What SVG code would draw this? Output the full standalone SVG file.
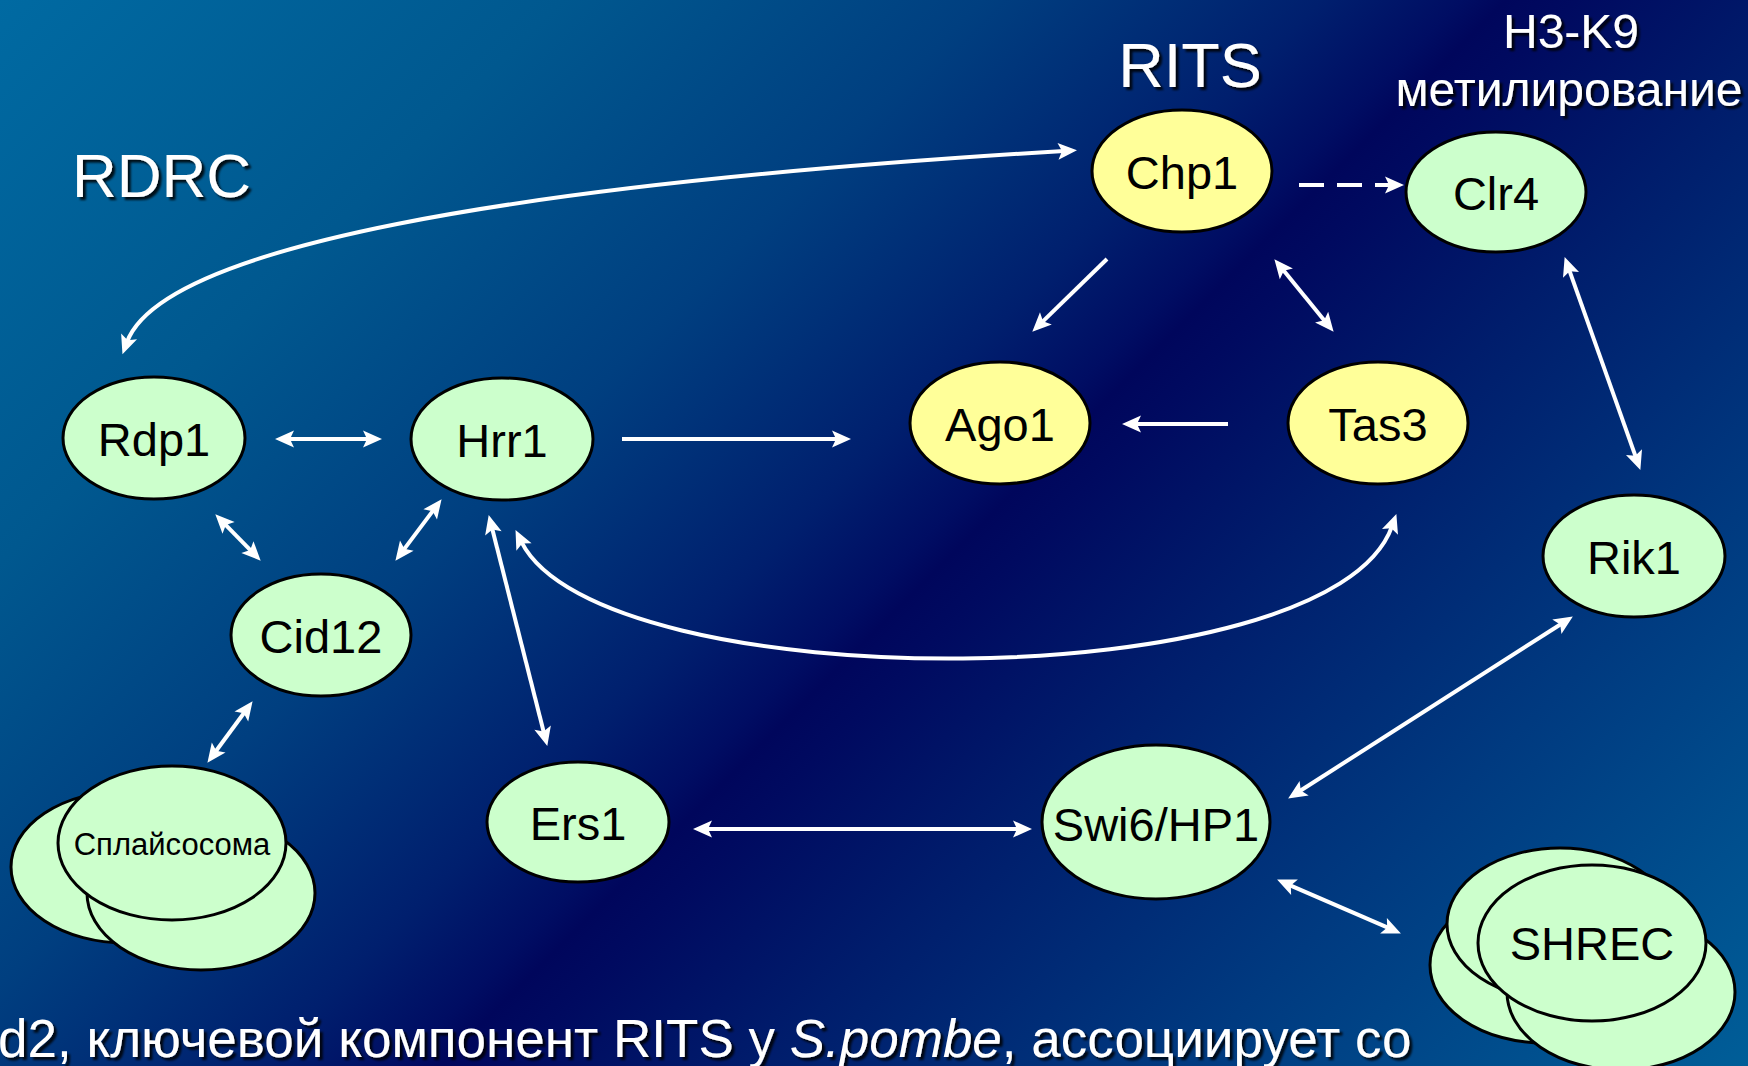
<svg xmlns="http://www.w3.org/2000/svg" width="1748" height="1066" viewBox="0 0 1748 1066">
  <defs>
    <!-- diagonal ocean-style backdrop with a dark band across the middle -->
    <linearGradient id="bg" gradientUnits="userSpaceOnUse" x1="0" y1="0" x2="1407" y2="1407">
      <stop offset="0" stop-color="#006aa2"/>
      <stop offset="0.2" stop-color="#00588f"/>
      <stop offset="0.35" stop-color="#003f80"/>
      <stop offset="0.47" stop-color="#001f6e"/>
      <stop offset="0.52" stop-color="#000d63"/>
      <stop offset="0.535" stop-color="#00065c"/>
      <stop offset="0.56" stop-color="#000a60"/>
      <stop offset="0.65" stop-color="#001d6c"/>
      <stop offset="0.8" stop-color="#003a80"/>
      <stop offset="1" stop-color="#005e98"/>
    </linearGradient>
    <marker id="ah" viewBox="-7 -10 21 20" refX="0" refY="0" markerWidth="21" markerHeight="20" markerUnits="userSpaceOnUse" orient="auto-start-reverse">
      <path d="M13,0 L-6,-8.5 L-2,0 L-6,8.5 Z" fill="#fff"/>
    </marker>
    <filter id="shadow" x="-10%" y="-20%" width="130%" height="150%">
      <feDropShadow dx="3" dy="3" stdDeviation="1.2" flood-color="#000" flood-opacity="0.85"/>
    </filter>
  </defs>
  <style>
    .node ellipse { stroke: #000; stroke-width: 3; }
    .g { fill: #ccffcc; }
    .y { fill: #ffff99; }
    .lbl { font-family: "Liberation Sans", Arial, sans-serif; font-size: 47px; text-anchor: middle; fill: #000; }
    .small { font-size: 31px; }
    .title { font-family: "Liberation Sans", Arial, sans-serif; fill: #fff; filter: url(#shadow); }
    .conn path { stroke: #fff; stroke-width: 4; fill: none; }
    .both { marker-start: url(#ah); marker-end: url(#ah); }
    .one { marker-end: url(#ah); }
  </style>

  <rect width="1748" height="1066" fill="url(#bg)"/>

  <!-- headings -->
  <text class="title" x="72" y="197" font-size="62">RDRC</text>
  <text class="title" x="1190" y="87" font-size="63" text-anchor="middle">RITS</text>
  <text class="title" x="1571" y="48" font-size="48" text-anchor="middle">H3-K9</text>
  <text class="title" x="1569" y="106" font-size="48" text-anchor="middle">метилирование</text>
  <text class="title" x="-2" y="1057" font-size="53">d2, ключевой компонент RITS у <tspan font-style="italic">S.pombe</tspan>, ассоциирует со</text>

  <!-- connectors -->
  <g id="connectors" class="conn">
    <path class="both" d="M127,342 C162,248 500,185 1064,151"/>
    <path class="one" d="M1299,185 L1391,185" stroke-dasharray="25 13"/>
    <path class="one" d="M1107,259 L1041.6,322.6"/>
    <path class="both" d="M1282.6,269.3 L1325.4,321.7"/>
    <path class="one" d="M1228,424 L1135,424"/>
    <path class="one" d="M622,439 L838,439"/>
    <path class="both" d="M288,439 L369,439"/>
    <path class="both" d="M224.4,523.6 L251.6,551.4"/>
    <path class="both" d="M433.8,509.6 L403.2,550.4"/>
    <path class="both" d="M491.9,527.6 L544.1,733.4"/>
    <path class="both" d="M521.3,541.7 C600,700 1330,700 1392,526.3"/>
    <path class="both" d="M1569,269.3 L1636,457.7"/>
    <path class="both" d="M1561.9,623.5 L1299.1,791.5"/>
    <path class="both" d="M706,829 L1019,829"/>
    <path class="both" d="M1289,884.8 L1389,928.2"/>
    <path class="both" d="M244.9,711.7 L215.1,752.3"/>
  </g>

  <!-- nodes -->
  <g id="node-rdp1" class="node">
    <ellipse class="g" cx="154" cy="438" rx="91" ry="61"/>
    <text class="lbl" x="154" y="456">Rdp1</text>
  </g>
  <g id="node-hrr1" class="node">
    <ellipse class="g" cx="502" cy="439" rx="91" ry="61"/>
    <text class="lbl" x="502" y="457">Hrr1</text>
  </g>
  <g id="node-cid12" class="node">
    <ellipse class="g" cx="321" cy="635" rx="90" ry="61"/>
    <text class="lbl" x="321" y="653">Cid12</text>
  </g>
  <g id="node-chp1" class="node">
    <ellipse class="y" cx="1182" cy="171" rx="90" ry="61"/>
    <text class="lbl" x="1182" y="189">Chp1</text>
  </g>
  <g id="node-clr4" class="node">
    <ellipse class="g" cx="1496" cy="192" rx="90" ry="60"/>
    <text class="lbl" x="1496" y="210">Clr4</text>
  </g>
  <g id="node-ago1" class="node">
    <ellipse class="y" cx="1000" cy="423" rx="90" ry="61"/>
    <text class="lbl" x="1000" y="441">Ago1</text>
  </g>
  <g id="node-tas3" class="node">
    <ellipse class="y" cx="1378" cy="423" rx="90" ry="61"/>
    <text class="lbl" x="1378" y="441">Tas3</text>
  </g>
  <g id="node-rik1" class="node">
    <ellipse class="g" cx="1634" cy="556" rx="91" ry="61"/>
    <text class="lbl" x="1634" y="574">Rik1</text>
  </g>
  <g id="node-ers1" class="node">
    <ellipse class="g" cx="578" cy="822" rx="91" ry="60"/>
    <text class="lbl" x="578" y="840">Ers1</text>
  </g>
  <g id="node-swi6" class="node">
    <ellipse class="g" cx="1156" cy="822" rx="114" ry="77"/>
    <text class="lbl" x="1156" y="841">Swi6/HP1</text>
  </g>
  <g id="node-spliceosome" class="node">
    <ellipse class="g" cx="125" cy="867" rx="114" ry="76"/>
    <ellipse class="g" cx="201" cy="893" rx="114" ry="77"/>
    <ellipse class="g" cx="172" cy="843" rx="114" ry="77"/>
    <text class="lbl small" x="172" y="855">Сплайсосома</text>
  </g>
  <g id="node-shrec" class="node">
    <ellipse class="g" cx="1544" cy="965" rx="114" ry="78"/>
    <ellipse class="g" cx="1621" cy="992" rx="114" ry="78"/>
    <ellipse class="g" cx="1560" cy="924" rx="113" ry="76"/>
    <ellipse class="g" cx="1592" cy="943" rx="114" ry="78"/>
    <text class="lbl" x="1592" y="960">SHREC</text>
  </g>
</svg>
